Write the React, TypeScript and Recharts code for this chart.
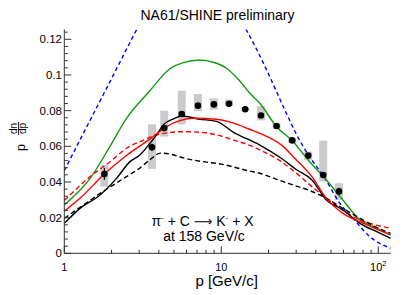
import React from 'react';
import { ComposedChart, Line, Scatter, ErrorBar, XAxis, YAxis } from 'recharts';

const FONT = '"Liberation Sans", Arial, Helvetica, sans-serif';
const AXIS = '#333';
const GRAY = '#cbcbcb';

// measured points: p [GeV/c], p dn/dp, stat error, systematic band
const pointP = [1.8, 3.62, 4.33, 5.6, 7.1, 8.97, 11.2, 14.2, 17.9, 22.5, 28.3, 35.8, 44.6, 56.2];
const pointVal = [0.0445, 0.0595, 0.0702, 0.0781, 0.0828, 0.0835, 0.0839, 0.0808, 0.0773, 0.0714, 0.0633, 0.0548, 0.0439, 0.0347];
const statErr = [0.0033, 0.002, 0.0015, 0.0012, 0.001, 0.001, 0.001, 0.001, 0.001, 0.001, 0.001, 0.0012, 0.0015, 0.002];
const sysLow = [0.0374, 0.0473, 0.0654, 0.0723, 0.0797, 0.0806, 0.0826, 0.0797, 0.0745, 0.0698, 0.062, 0.0522, 0.0402, 0.0299];
const sysHigh = [0.0495, 0.0723, 0.08, 0.0912, 0.0893, 0.0869, 0.0862, 0.0817, 0.0826, 0.0729, 0.0645, 0.057, 0.0632, 0.0393];

// model curves
const blueP = [1, 1.5, 2, 2.5, 3, 4, 5, 6.5, 8, 10, 12, 14.5, 19.4, 24.9, 31.7, 36, 45, 57, 70, 88, 120];
const blueVal = [0.0464, 0.0766, 0.098, 0.1147, 0.128, 0.145, 0.155, 0.16, 0.158, 0.149, 0.137, 0.125, 0.103, 0.082, 0.063, 0.055, 0.043, 0.028, 0.019, 0.0095, 0.0028];

const greenP = [1, 1.46, 1.95, 2.49, 3.51, 4.71, 5.73, 7.3, 9, 10.8, 13, 15.2, 17.6, 22.5, 28.7, 36, 46.7, 60, 76.4, 90, 120];
const greenVal = [0.0271, 0.042, 0.0598, 0.0757, 0.0912, 0.1035, 0.1069, 0.1084, 0.107, 0.1038, 0.097, 0.0897, 0.0841, 0.071, 0.0626, 0.052, 0.0411, 0.0295, 0.0187, 0.0155, 0.0103];

const redP = [1, 1.3, 1.77, 2.5, 3.51, 4.48, 5.5, 6.6, 9.3, 12, 15, 17.6, 24.1, 30, 37.8, 46.7, 59.6, 76.4, 95, 120];
const redVal = [0.0236, 0.032, 0.0439, 0.055, 0.064, 0.071, 0.0745, 0.0757, 0.0752, 0.073, 0.0697, 0.0673, 0.0608, 0.0525, 0.043, 0.0308, 0.0224, 0.0177, 0.014, 0.0103];

const redDashP = [1, 1.46, 2, 2.49, 3.2, 3.87, 5.73, 7.5, 9.33, 12, 15.2, 17.6, 24.1, 30, 37.8, 51.7, 76.4, 95, 120];
const redDashVal = [0.0296, 0.043, 0.052, 0.0589, 0.0635, 0.0664, 0.0682, 0.0678, 0.0664, 0.0635, 0.0605, 0.058, 0.0514, 0.045, 0.0374, 0.028, 0.0187, 0.016, 0.014];

const blackP = [1, 1.26, 1.69, 2.15, 2.62, 3.03, 3.5, 3.87, 4.27, 5, 5.6, 7.3, 9.33, 11.9, 17.6, 24.1, 30, 37.8, 46.7, 59.6, 76.4, 97.8, 120];
const blackVal = [0.0168, 0.0252, 0.0327, 0.042, 0.0514, 0.0551, 0.0615, 0.0664, 0.072, 0.0755, 0.077, 0.0752, 0.074, 0.068, 0.0607, 0.0533, 0.047, 0.0411, 0.0299, 0.0243, 0.0168, 0.0121, 0.0084];

const blackDashP = [1, 1.3, 1.69, 2.1, 2.49, 3, 3.51, 4.1, 4.8, 5.73, 7.5, 10, 15, 17.6, 22.5, 28.7, 37, 46.7, 60, 76.4, 95, 120];
const blackDashVal = [0.0196, 0.0266, 0.0336, 0.0389, 0.043, 0.0475, 0.0525, 0.0562, 0.0555, 0.0535, 0.0515, 0.05, 0.0462, 0.0449, 0.0415, 0.0383, 0.035, 0.0308, 0.025, 0.0196, 0.015, 0.0112];

const xTicks = [1, 2, 3, 4, 5, 6, 7, 8, 9, 10, 20, 30, 40, 50, 60, 70, 80, 90, 100];
const yTicks = Array.from({ length: 32 }, (_, i) => +(i * 0.004).toFixed(3));

const zip = (xs: number[], ys: number[]) => xs.map((x, i) => ({ x, y: ys[i] }));

const points = pointP.map((x, i) => ({
  x,
  y: pointVal[i],
  stat: statErr[i],
  sys: [pointVal[i] - sysLow[i], sysHigh[i] - pointVal[i]],
}));

const curves = [
  { data: zip(blueP, blueVal), color: '#0000ff', dash: '4 3' },
  { data: zip(greenP, greenVal), color: '#109a10', dash: undefined },
  { data: zip(redDashP, redDashVal), color: '#ff0000', dash: '5 3' },
  { data: zip(blackDashP, blackDashVal), color: '#000', dash: '5 3' },
  { data: zip(blackP, blackVal), color: '#000', dash: undefined },
  { data: zip(redP, redVal), color: '#ff0000', dash: undefined },
];

const XTick = (props: any) => {
  const { x, y, payload } = props;
  const v = payload.value;
  const major = v === 1 || v === 10 || v === 100;
  return (
    <g>
      <line x1={x} x2={x} y1={y} y2={y - (major ? 7 : 3.5)} stroke={AXIS} />
      {major && (
        <text x={x} y={y + 17.2} textAnchor="middle" fontSize={11} fontFamily={FONT} fill="#000">
          {v === 100 ? (
            <>
              10<tspan dy={-5} fontSize={7.5}>2</tspan>
            </>
          ) : (
            String(v)
          )}
        </text>
      )}
    </g>
  );
};

const YTick = (props: any) => {
  const { x, y, payload } = props;
  const v = payload.value;
  const major = Math.abs(v / 0.02 - Math.round(v / 0.02)) < 1e-6;
  return (
    <g>
      <line x1={x} x2={x + (major ? 7 : 3.5)} y1={y} y2={y} stroke={AXIS} />
      {major && (
        <text x={x - 2.3} y={y + 4} textAnchor="end" fontSize={11.5} fontFamily={FONT} fill="#000">
          {String(Number(v.toFixed(3)))}
        </text>
      )}
    </g>
  );
};

const Dot = (props: any) => <circle cx={props.cx} cy={props.cy} r={3.3} fill="#000" />;

export default function App() {
  return (
    <div style={{ position: 'absolute', left: 0, top: 0, width: 407, height: 295, background: '#fff' }}>
      <ComposedChart width={407} height={295} margin={{ top: 29.5, right: 16.3, bottom: 0, left: 0 }}>
        <XAxis
          dataKey="x"
          type="number"
          scale="log"
          domain={[1, 120]}
          allowDataOverflow
          ticks={xTicks}
          interval={0}
          tick={XTick}
          tickLine={false}
          tickSize={0}
          tickMargin={0}
          height={41.7}
          axisLine={{ stroke: AXIS }}
        />
        <YAxis
          dataKey="y"
          type="number"
          domain={[0, 0.1255]}
          allowDataOverflow
          ticks={yTicks}
          interval={0}
          tick={YTick}
          tickLine={false}
          tickSize={0}
          tickMargin={0}
          width={64.3}
          axisLine={{ stroke: AXIS }}
        />
        <XAxis xAxisId="top" orientation="top" type="number" domain={[0, 1]} height={0} tick={false} tickLine={false} axisLine={{ stroke: AXIS }} />
        <YAxis yAxisId="right" orientation="right" type="number" domain={[0, 1]} width={0} tick={false} tickLine={false} axisLine={{ stroke: AXIS }} />
        <Scatter data={points} shape={() => <g />} isAnimationActive={false}>
          <ErrorBar dataKey="sys" direction="y" width={0} stroke={GRAY} strokeWidth={8} isAnimationActive={false} />
        </Scatter>
        {curves.map((c, i) => (
          <Line
            key={i}
            data={c.data}
            dataKey="y"
            type="monotone"
            stroke={c.color}
            strokeWidth={1.4}
            strokeDasharray={c.dash}
            dot={false}
            activeDot={false}
            isAnimationActive={false}
          />
        ))}
        <Scatter data={points} shape={Dot} isAnimationActive={false}>
          <ErrorBar dataKey="stat" direction="y" width={0} stroke="#000" strokeWidth={1.2} isAnimationActive={false} />
        </Scatter>
      </ComposedChart>
      <svg width={407} height={295} style={{ position: 'absolute', left: 0, top: 0, pointerEvents: 'none' }} fontFamily={FONT}>
        <text x={217.5} y={19.5} textAnchor="middle" fontSize={14} fill="#000">NA61/SHINE preliminary</text>
        <text x={202.5} y={225.8} textAnchor="middle" fontSize={14} fill="#000">
          π<tspan dy={-6} fontSize={8}>-</tspan>
          <tspan dy={6}> + C </tspan>
          <tspan fontFamily='"DejaVu Sans", sans-serif' fontSize={13}>⟶</tspan>
          <tspan> K</tspan>
          <tspan dy={-6} fontSize={8}>-</tspan>
          <tspan dy={6}> + X</tspan>
        </text>
        <text x={204} y={241} textAnchor="middle" fontSize={14} fill="#000">at 158 GeV/c</text>
        <text x={226.7} y={286} textAnchor="middle" fontSize={15} fill="#000">p [GeV/c]</text>
        <g>
          <text transform="translate(24.5,151) rotate(-90)" fontSize={12.5} fill="#000">p</text>
          <text transform="translate(17.3,128.5) rotate(-90)" textAnchor="middle" fontSize={10} fill="#000">dn</text>
          <line x1={18.6} x2={18.6} y1={122} y2={135} stroke="#000" strokeWidth={0.9} />
          <text transform="translate(26,128.5) rotate(-90)" textAnchor="middle" fontSize={10} fill="#000">dp</text>
        </g>
      </svg>
    </div>
  );
}
